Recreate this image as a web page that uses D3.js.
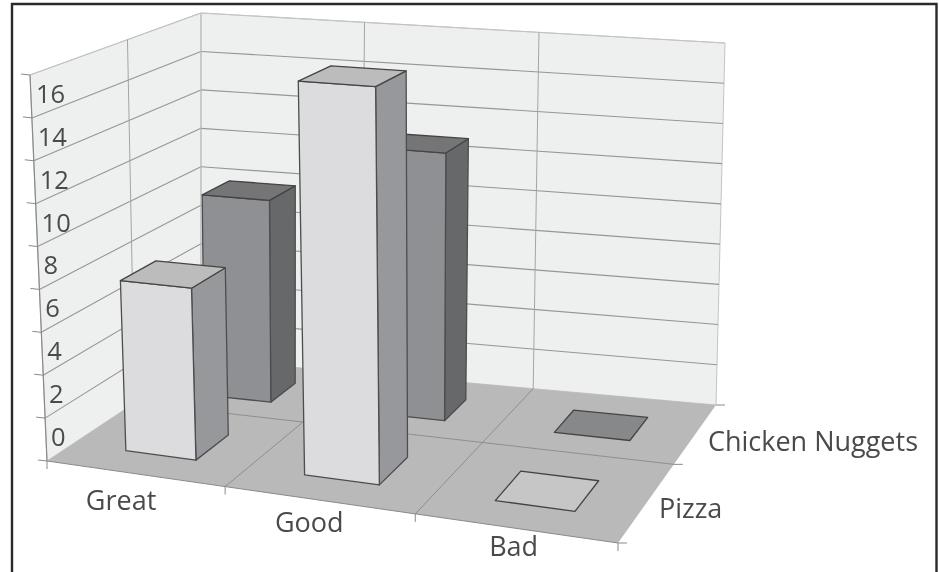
<!DOCTYPE html>
<html>
  <head>
    <meta charset="utf-8">
    <title>Food ratings</title>
    <script src="https://d3js.org/d3.v7.min.js"></script>
    <style>
      html, body { margin: 0; padding: 0; background: #fff; }
      svg { display: block; filter: blur(0.4px); } /* the original is a soft scan */
      text { font-family: "Open Sans", sans-serif; fill: #4a4a4a; }
    </style>
  </head>
  <body>
    <script>

      var categories = ["Great", "Good", "Bad"];
      var series = ["Pizza", "Chicken Nuggets"];
      var pizza = [8, 18, 0];
      var nuggets = [10, 13, 0];
      var yTickLabels = [0, 2, 4, 6, 8, 10, 12, 14, 16];
      var yGrid = [0, 2, 4, 6, 8, 10, 12, 14, 16, 18];

      var width = 939, height = 572;

      var svg = d3.select("body").append("svg")
        .attr("width", width)
        .attr("height", height);

      // the box the chart sits in, as seen on the page
      var floorQuad = [[47, 461], [618, 543], [716, 405], [201, 359]];
      var roofQuad  = [[30, 75], [622, 118], [725, 43], [201, 13]];

      function quadMap(q){
        return function(u, w){
          var front = d3.interpolateArray(q[0], q[1])(u);
          var back = d3.interpolateArray(q[3], q[2])(u);
          return d3.interpolateArray(front, back)(w);
        };
      }

      var floorMap = quadMap(floorQuad);
      var roofMap = quadMap(roofQuad);

      // cells are not quite equal on the page, the near ones draw wider
      var cScale = d3.scaleLinear().domain([0, 1, 2, 3]).range([0, 0.312, 0.645, 1]);
      var sScale = d3.scaleLinear().domain([0, 1, 2]).range([0, 0.57, 1]);
      var vScale = d3.scaleLinear().domain([0, 18]).range([0, 1]);

      var cBand = d3.scaleBand().domain(categories).range([0, categories.length]).paddingInner(0.6).paddingOuter(0.3);
      var sBand = d3.scaleBand().domain(series).range([0, series.length]).paddingInner(0.6).paddingOuter(0.3);

      // c along the categories, s into the page, v up
      function project(c, s, v){
        var a = floorMap(cScale(c), sScale(s));
        var b = roofMap(cScale(c), sScale(s));
        return d3.interpolateArray(a, b)(vScale(v));
      }

      var line = d3.line();
      var nC = categories.length, nS = series.length, vMax = 18;

      function face(g, pts, fill, stroke, sw){
        g.append("path")
          .attr("d", line(pts) + "Z")
          .attr("fill", fill)
          .attr("stroke", stroke)
          .attr("stroke-width", sw)
          .attr("stroke-linejoin", "round");
      }

      function seg(g, a, b, color, sw){
        g.append("path")
          .attr("d", line([a, b]))
          .attr("fill", "none")
          .attr("stroke", color)
          .attr("stroke-width", sw);
      }

      // walls and floor
      var box = svg.append("g");
      face(box, [project(0,0,0), project(0,nS,0), project(0,nS,vMax), project(0,0,vMax)], "#eeefef", "#c4c4c4", 1);
      face(box, [project(0,nS,0), project(nC,nS,0), project(nC,nS,vMax), project(0,nS,vMax)], "#eeefef", "#c4c4c4", 1);
      face(box, [project(0,0,0), project(nC,0,0), project(nC,nS,0), project(0,nS,0)], "#b9b9ba", "none", 0);

      yGrid.forEach(function(v){
        if (v === 0) return;
        seg(box, project(0,0,v), project(0,nS,v), v === 18 ? "#c4c4c4" : "#969696", 1.1);
        seg(box, project(0,nS,v), project(nC,nS,v), v === 18 ? "#c4c4c4" : "#969696", 1.1);
      });
      seg(box, project(0,1,0), project(0,1,vMax), "#a4a4a4", 1);
      seg(box, project(0,nS,0), project(0,nS,vMax), "#c0c0c0", 1);
      d3.range(1, nC).forEach(function(c){
        seg(box, project(c,nS,0), project(c,nS,vMax), "#a4a4a4", 1);
        seg(box, project(c,0,0), project(c,nS,0), "#8e8e8e", 1);
      });
      seg(box, project(0,1,0), project(nC,1,0), "#8e8e8e", 1);

      // axis edges and ticks
      var axes = svg.append("g");
      seg(axes, project(0,0,0), project(0,0,vMax), "#8a8a8a", 1.2);
      seg(axes, project(0,0,0), project(nC,0,0), "#8a8a8a", 1);
      yGrid.forEach(function(v){
        var p = project(0,0,v);
        seg(axes, [p[0] - 9, p[1] - 1], p, "#8a8a8a", 1);
      });
      d3.range(0, nC + 1).forEach(function(c){
        var p = project(c,0,0);
        seg(axes, p, [p[0], p[1] + 8], "#8a8a8a", 1);
      });
      d3.range(0, nS + 1).forEach(function(s){
        var p = project(nC,s,0);
        seg(axes, p, [p[0] + 9, p[1]], "#8a8a8a", 1);
      });

      // bars, back row first
      var styles = {
        "Pizza": { front: "#dcdcde", side: "#97989b", roof: "#bcbcbd" },
        "Chicken Nuggets": { front: "#8f9093", side: "#67686a", roof: "#757577" }
      };
      var values = { "Pizza": pizza, "Chicken Nuggets": nuggets };

      var bars = svg.append("g");
      series.slice().reverse().forEach(function(name){
        categories.forEach(function(cat, i){
          var v = values[name][i];
          var c0 = cBand(cat), c1 = c0 + cBand.bandwidth();
          var s0 = sBand(name), s1 = s0 + sBand.bandwidth();
          var st = styles[name];
          var g = bars.append("g");
          if (v > 0) {
            face(g, [project(c1,s0,0), project(c1,s1,0), project(c1,s1,v), project(c1,s0,v)], st.side, "#4d4d4d", 1.3);
            face(g, [project(c0,s0,0), project(c1,s0,0), project(c1,s0,v), project(c0,s0,v)], st.front, "#4d4d4d", 1.3);
          }
          face(g, [project(c0,s0,v), project(c1,s0,v), project(c1,s1,v), project(c0,s1,v)],
            v > 0 ? st.roof : (name === "Pizza" ? "#c6c6c7" : "#87888a"), "#444", 1.3);
        });
      });

      // text
      var labels = svg.append("g");
      labels.selectAll(".ylab").data(yTickLabels).enter().append("text")
        .attr("class", "ylab")
        .attr("x", function(d){ return project(0,0,d)[0] + 4; })
        .attr("y", function(d){ return project(0,0,d)[1] - 15; })
        .attr("font-size", 25.5)
        .text(function(d){ return d; });

      var catShift = [-15, -11, -3];
      labels.selectAll(".clab").data(categories).enter().append("text")
        .attr("class", "clab")
        .attr("text-anchor", "middle")
        .attr("x", function(d, i){ return project(i + 0.5,0,0)[0] + catShift[i]; })
        .attr("y", function(d, i){ return project(i + 0.5,0,0)[1] + 36 - i * 4; })
        .attr("font-size", 27)
        .text(function(d){ return d; });

      labels.selectAll(".slab").data(series).enter().append("text")
        .attr("class", "slab")
        .attr("x", function(d, i){ return project(nC,i + 0.5,0)[0] + 13; })
        .attr("y", function(d, i){ return project(nC,i + 0.5,0)[1] + 14 + i * 2; })
        .attr("font-size", 27)
        .text(function(d){ return d; });

      // frame round the picture, open at the bottom
      svg.append("path")
        .attr("d", line([[12, height], [12, 4], [936.5, 4], [936.5, height]]))
        .attr("fill", "none")
        .attr("stroke", "#2a2a2a")
        .attr("stroke-width", 2.4);

    </script>
  </body>
</html>
